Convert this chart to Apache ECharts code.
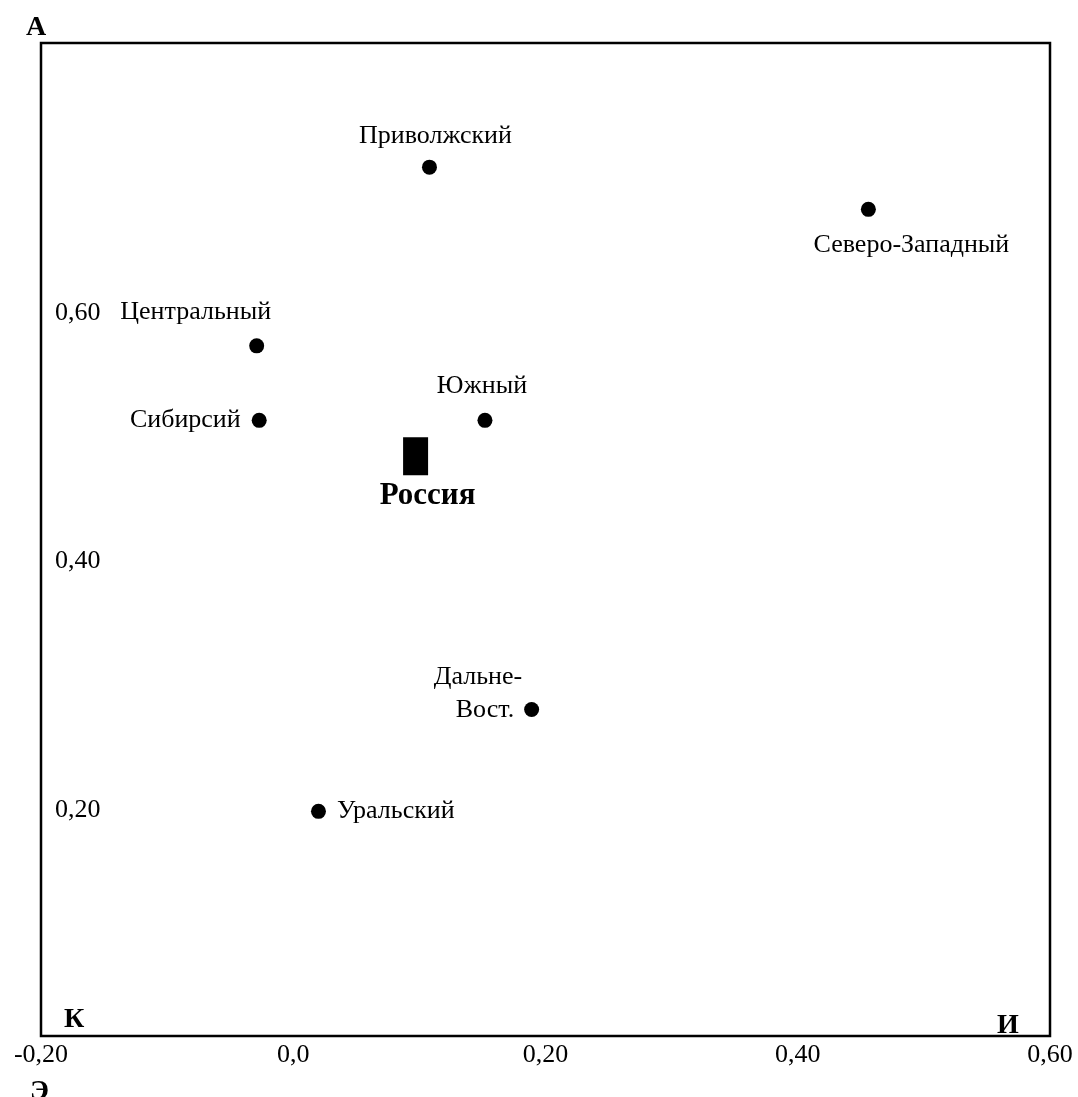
<!DOCTYPE html>
<html>
<head>
<meta charset="utf-8">
<script src="https://cdn.jsdelivr.net/npm/echarts@6/dist/echarts.min.js"></script>
<style>html,body{margin:0;padding:0;background:#fff}#c{width:1078px;height:1097px}</style>
</head>
<body>
<div id="c"></div>
<script>
// ---- data ----
const regionNames = ['Приволжский', 'Северо-Западный', 'Центральный', 'Сибирсий', 'Южный', 'Дальне-Вост.', 'Уральский'];
const regionX = [0.108, 0.456, -0.029, -0.027, 0.152, 0.189, 0.020];
const regionY = [0.700, 0.666, 0.556, 0.496, 0.496, 0.263, 0.181];
const russiaName = 'Россия';
const russiaX = 0.097;
const russiaY = 0.467;
const xTickValues = [-0.2, 0, 0.2, 0.4, 0.6];
const xTickLabels = ['-0,20', '0,0', '0,20', '0,40', '0,60'];
const yTickValues = [0.2, 0.4, 0.6];
const yTickLabels = ['0,20', '0,40', '0,60'];

// ---- label layout (style, not data) ----
const labelLayout = {
  'Приволжский': {position: 'top', distance: 7, offset: [6, 0]},
  'Северо-Западный': {position: 'bottom', distance: 12, offset: [43, 0]},
  'Центральный': {position: 'top', distance: 10, offset: [-61, 0]},
  'Сибирсий': {position: 'left', distance: 11, offset: [0, 0]},
  'Южный': {position: 'top', distance: 10, offset: [-3, 0]},
  'Дальне-Вост.': {position: 'left', distance: 2, offset: [0, -16], text: '{a|Дальне-}\n{b|Вост.}'},
  'Уральский': {position: 'right', distance: 11, offset: [0, 0]}
};

const FONT = '"Liberation Serif", "DejaVu Serif", serif';

function fmt(list, vals) {
  return function (v) {
    for (let i = 0; i < vals.length; i++) if (Math.abs(v - vals[i]) < 1e-9) return list[i];
    return '';
  };
}

const regionData = regionNames.map((n, i) => {
  const l = labelLayout[n];
  return {
    name: n,
    value: [regionX[i], regionY[i]],
    label: {show: true, position: l.position, distance: l.distance, offset: l.offset, formatter: l.text || '{b}',
      color: '#000', fontFamily: FONT, fontSize: 26, lineHeight: 33, align: l.position === 'left' ? 'right' : undefined,
      rich: {
        a: {color: '#000', fontFamily: FONT, fontSize: 26, lineHeight: 33},
        b: {color: '#000', fontFamily: FONT, fontSize: 26, lineHeight: 33, padding: [0, 8, 0, 0]}
      }}
  };
});

const chart = echarts.init(document.getElementById('c'), null, {renderer: 'canvas'});
chart.setOption({
  backgroundColor: '#fff',
  animation: false,
  grid: {left: 41, top: 43, right: 28, bottom: 61, show: true, borderColor: '#000', borderWidth: 2.5, backgroundColor: 'transparent'},
  xAxis: {
    type: 'value', min: -0.2, max: 0.6, interval: 0.2,
    axisLine: {show: false}, axisTick: {show: false}, splitLine: {show: false},
    axisLabel: {color: '#000', fontFamily: FONT, fontSize: 26, margin: 6, formatter: fmt(xTickLabels, xTickValues), showMinLabel: true, showMaxLabel: true}
  },
  yAxis: {
    type: 'value', min: 0, max: 0.8, interval: 0.2,
    axisLine: {show: false}, axisTick: {show: false}, splitLine: {show: false},
    axisLabel: {inside: true, color: '#000', fontFamily: FONT, fontSize: 26, margin: 14, verticalAlign: 'top', padding: [9, 0, 0, 0],
      formatter: fmt(yTickLabels, yTickValues), showMinLabel: false, showMaxLabel: false}
  },
  series: [
    {
      type: 'scatter', symbol: 'circle', symbolSize: 15,
      itemStyle: {color: '#000', opacity: 1},
      emphasis: {disabled: true},
      data: regionData
    },
    {
      type: 'scatter', symbol: 'rect', symbolSize: [25, 38],
      itemStyle: {color: '#000', opacity: 1},
      emphasis: {disabled: true},
      data: [{name: russiaName, value: [russiaX, russiaY]}],
      label: {show: true, position: 'bottom', distance: 5, offset: [12, 0], formatter: '{b}', color: '#000',
        fontFamily: FONT, fontSize: 31, fontWeight: 'bold'}
    }
  ],
  graphic: [
    {type: 'text', left: 26, top: 14, style: {text: 'А', font: 'bold 28px ' + FONT, fill: '#000'}},
    {type: 'text', left: 64, top: 1006, style: {text: 'К', font: 'bold 28px ' + FONT, fill: '#000'}},
    {type: 'text', left: 997, top: 1012, style: {text: 'И', font: 'bold 28px ' + FONT, fill: '#000'}},
    {type: 'text', left: 30, top: 1078, style: {text: 'Э', font: 'bold 28px ' + FONT, fill: '#000'}}
  ]
});
</script>
</body>
</html>
